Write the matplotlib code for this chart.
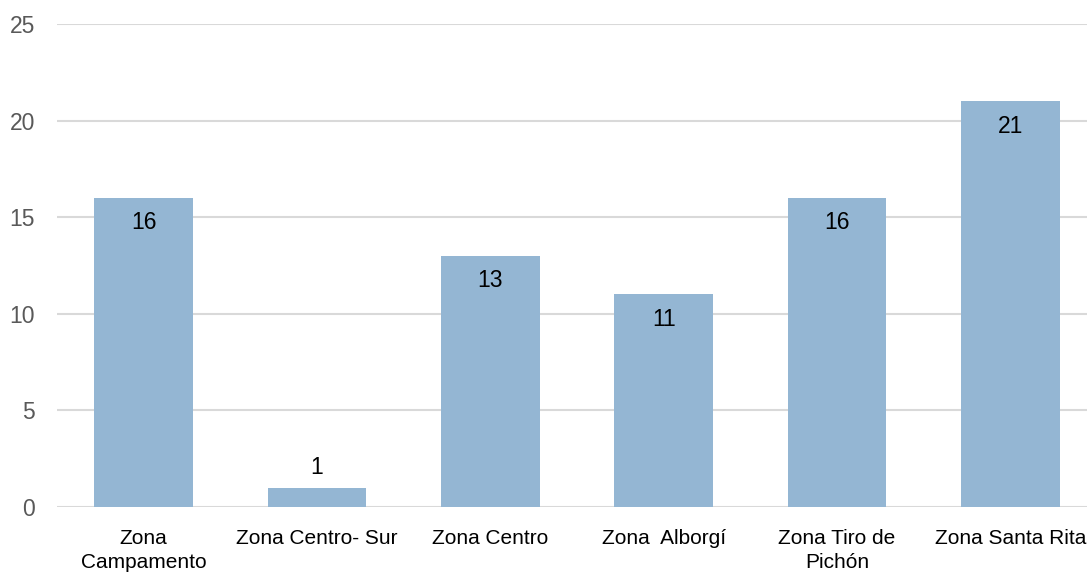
import matplotlib
matplotlib.use("Agg")
import matplotlib.pyplot as plt

categories = ["Zona\nCampamento", "Zona Centro- Sur", "Zona Centro", "Zona  Alborgí",
              "Zona Tiro de\nPichón", "Zona Santa Rita"]
values = [16, 1, 13, 11, 16, 21]
yticks = [0, 5, 10, 15, 20, 25]

fig = plt.figure(figsize=(10.87, 5.72), dpi=100)
ax = fig.add_axes([57 / 1087, 65 / 572, 1040 / 1087, 483 / 572])

x = list(range(len(values)))
ax.bar(x, values, width=0.57, color="#94b6d3", zorder=3)

ax.set_xlim(-0.5, len(values) - 0.5)
ax.set_ylim(0, 25)
ax.set_yticks(yticks)
ax.yaxis.grid(True, color="#d9d9d9", linewidth=1.5, zorder=0)
ax.set_axisbelow(True)
for s in ax.spines.values():
    s.set_visible(False)
ax.tick_params(axis="both", length=0)
ax.tick_params(axis="y", pad=16, labelsize=16.5, labelcolor="#595959")
for t in ax.get_yticklabels():
    t.set_fontfamily("Liberation Sans")

ax.set_xticks(x)
ax.set_xticklabels(categories, fontfamily="Liberation Sans", fontsize=15,
                   color="black", linespacing=1.35)
ax.tick_params(axis="x", pad=16)

# value labels: inside the top of tall bars, above short ones
for xi, v in zip(x, values):
    y = v - 1.3 if v >= 3 else v + 1.05
    ax.text(xi, y, str(v), ha="center", va="center",
            fontsize=16.5, fontfamily="Liberation Sans", color="black", zorder=4)

fig.savefig("out.png", dpi=100)
